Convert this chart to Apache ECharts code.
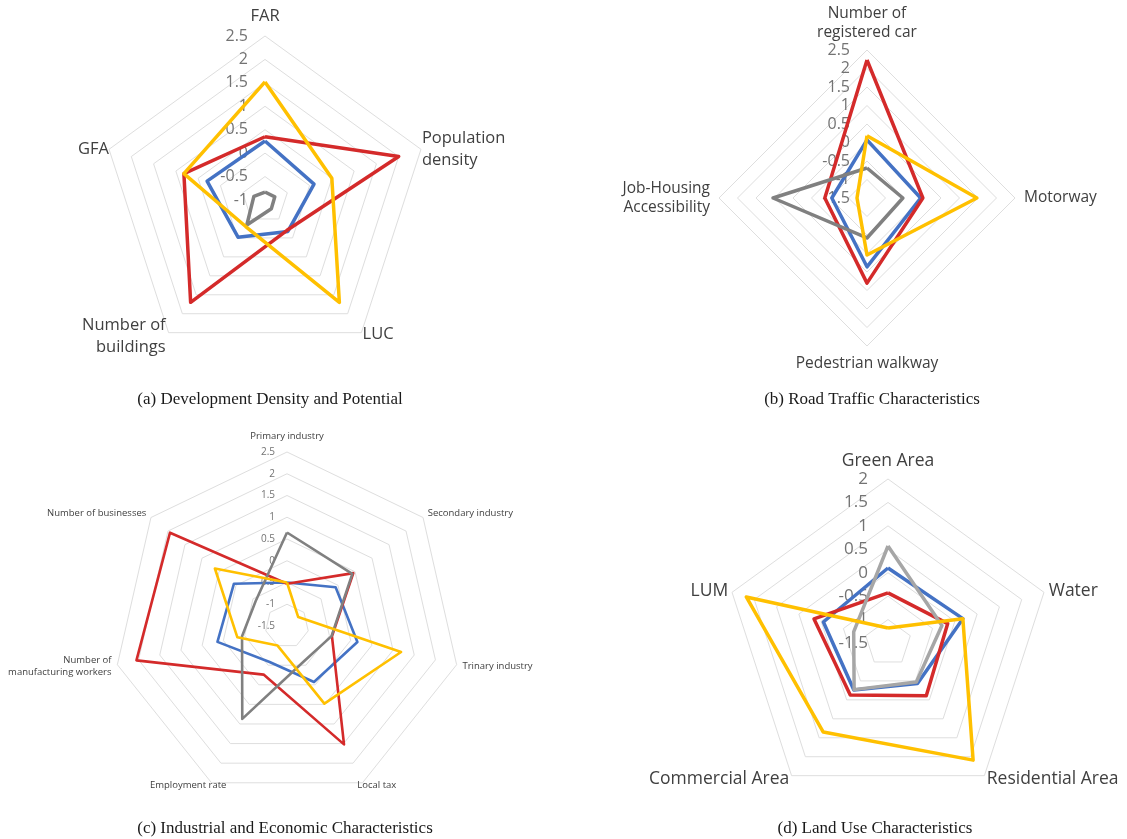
<!DOCTYPE html>
<html>
<head>
<meta charset="utf-8">
<script src="https://cdn.jsdelivr.net/npm/echarts@6/dist/echarts.min.js"></script>
<style>
html,body{margin:0;padding:0;background:#fff;}
#c{width:1127px;height:839px;}
</style>
</head>
<body>
<div id="c"></div>
<script>
// ---- Data (categories listed clockwise from the top) ----
var seriesNames = ['Series 1', 'Series 2', 'Series 3', 'Series 4'];

// (a) Development Density and Potential
var catsA = ['FAR', 'Population\ndensity', 'LUC', 'Number of\nbuildings', 'GFA'];
var blueA = [0.26, 0.1, -0.17, -0.02, 0.3];
var redA = [0.35, 2.0, -0.2, 1.7, 0.82];
var yellowA = [1.52, 0.5, 1.7, -0.3, 0.82];
var grayA = [-0.83, -0.78, -0.77, -0.34, -0.75];

// (b) Road Traffic Characteristics
var catsB = ['Number of\nregistered car', 'Motorway', 'Pedestrian walkway', 'Job-Housing\nAccessibility'];
var blueB = [0.07, -0.05, 0.36, -0.55];
var redB = [2.23, 0.01, 0.8, -0.36];
var yellowB = [0.18, 1.47, 0.04, -1.23];
var grayB = [-0.69, -0.53, -0.42, 1.04];

// (c) Industrial and Economic Characteristics
var catsC = ['Primary industry', 'Secondary industry', 'Trinary industry', 'Local tax', 'Employment rate', 'Number of\nmanufacturing workers', 'Number of businesses'];
var blueC = [-0.5, -0.07, 0.16, -0.07, -0.58, 0.14, 0.06];
var redC = [-0.53, 0.45, -0.44, 1.52, -0.26, 2.05, 1.94];
var yellowC = [-0.5, -1.17, 1.19, 0.48, -1.0, -0.33, 0.62];
var grayC = [0.65, 0.42, -0.45, -0.6, 0.87, -0.44, -0.58];

// (d) Land Use Characteristics
var catsD = ['Green Area', 'Water', 'Residential Area', 'Commercial Area', 'LUM'];
var blueD = [0.1, 0.18, -0.43, -0.26, -0.05];
var redD = [-0.43, -0.16, -0.11, -0.13, 0.16];
var yellowD = [-1.18, 0.18, 1.59, 0.85, 1.68];
var grayD = [0.57, -0.29, -0.47, -0.27, -0.73];

// axis ranges [min, max]
var rangeA = [-1, 2.5];
var rangeB = [-1.5, 2.5];
var rangeC = [-1.5, 2.5];
var rangeD = [-1.5, 2];

var captions = ['(a) Development Density and Potential', '(b) Road Traffic Characteristics',
                '(c) Industrial and Economic Characteristics', '(d) Land Use Characteristics'];

// ---- Build ----
// ECharts radar places indicators counter-clockwise; convert clockwise lists
function ccw(arr) { return [arr[0]].concat(arr.slice(1).reverse()); }

var panels = [
  {cats: catsA, data: [blueA, redA, grayA, yellowA], range: rangeA, center: [265, 200], radius: 164,
   nameSize: 16.5, lineH: 22, labelSize: 16, labelMargin: 17, width: 3.5, gray: '#808080',
   gaps: [9, 1, 2, 5, 0],
   styles: [{}, {}, {}, {verticalAlign: 'middle'}, {}]},
  {cats: catsB, data: [blueB, redB, grayB, yellowB], range: rangeB, center: [867, 198], radius: 148,
   nameSize: 15.5, lineH: 19, labelSize: 16, labelMargin: 17, width: 3.5, gray: '#808080',
   gaps: [7, 9, 8, 9],
   styles: [{}, {}, {}, {}]},
  {cats: catsC, data: [blueC, redC, grayC, yellowC], range: rangeC, center: [287, 626], radius: 174,
   nameSize: 9.5, lineH: 12, labelSize: 10, labelMargin: 12, width: 2.6, gray: '#808080',
   gaps: [10, 6, 6, 3, 3, 6, 6],
   styles: [{}, {}, {}, {align: 'center', padding: [0, 0, 0, 26]}, {align: 'center', padding: [0, 44, 0, 0]}, {}, {}]},
  {cats: catsD, data: [blueD, redD, grayD, yellowD], range: rangeD, center: [888, 643], radius: 164,
   nameSize: 17.5, lineH: 20, labelSize: 17, labelMargin: 20, width: 3.5, gray: '#A6A6A6',
   gaps: [8, 5, 4, 4, 4],
   styles: [{}, {}, {}, {}, {}]}
];
var seriesColors = function (p) { return ['#4472C4', '#D42A2A', p.gray, '#FFC000']; };

var radars = [], series = [];
panels.forEach(function (p, i) {
  var split = Math.round((p.range[1] - p.range[0]) / 0.5);
  var gapsCcw = ccw(p.gaps), stylesCcw = ccw(p.styles);
  var inds = ccw(p.cats).map(function (c, k) {
    var o = {name: c, min: p.range[0], max: p.range[1], nameGap: gapsCcw[k],
             nameTextStyle: stylesCcw[k]};
    if (k === 0) {
      o.axisLabel = {show: true, color: '#737373', fontSize: p.labelSize, fontFamily: 'Open Sans',
                     margin: p.labelMargin, align: 'right'};
    }
    return o;
  });
  radars.push({
    center: p.center, radius: p.radius, startAngle: 90, splitNumber: split, shape: 'polygon',
    indicator: inds,
    axisName: {color: '#404040', fontSize: p.nameSize, lineHeight: p.lineH, fontFamily: 'Open Sans'},
    splitLine: {lineStyle: {color: '#DEDEDE', width: 1}},
    splitArea: {show: false},
    axisLine: {show: false},
    axisTick: {show: false},
    axisLabel: {show: false}
  });
  var cols = seriesColors(p);
  p.data.forEach(function (arr, s) {
    series.push({
      type: 'radar', radarIndex: i, symbol: 'none', silent: true,
      lineStyle: {color: cols[s], width: p.width},
      itemStyle: {color: cols[s]},
      data: [{value: ccw(arr), name: seriesNames[s]}]
    });
  });
});

var titlePos = [[265, 386], [867, 386], [280, 815], [870, 815]];
var titles = captions.map(function (t, i) {
  return {text: t, left: titlePos[i][0], top: titlePos[i][1], textAlign: 'center',
          textStyle: {fontFamily: 'Liberation Serif', fontSize: 17, fontWeight: 'normal', color: '#1a1a1a'}};
});

var chart = echarts.init(document.getElementById('c'));
chart.setOption({
  backgroundColor: '#ffffff',
  animation: false,
  title: titles,
  radar: radars,
  series: series
});
</script>
</body>
</html>
